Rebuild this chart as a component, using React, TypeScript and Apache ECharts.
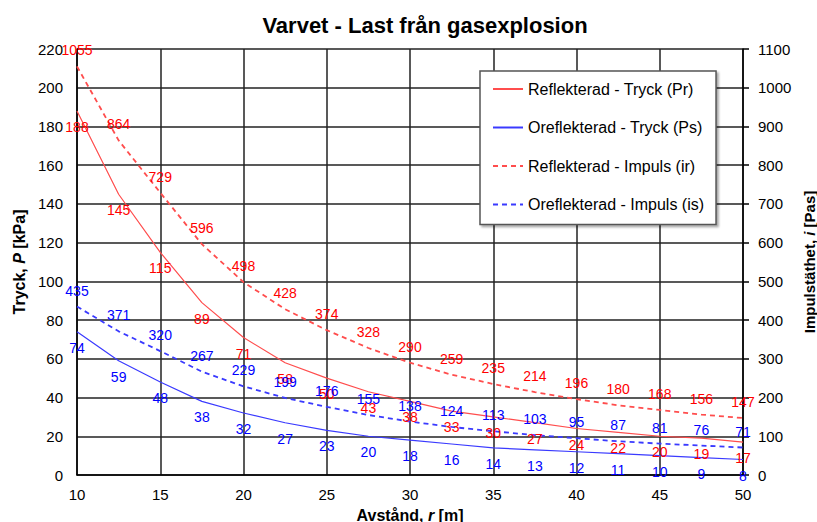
import React, { useEffect, useRef } from "react";
import * as echarts from "echarts";

const distances = [10, 12.5, 15, 17.5, 20, 22.5, 25, 27.5, 30, 32.5, 35, 37.5, 40, 42.5, 45, 47.5, 50];
const prValues = [188, 145, 115, 89, 71, 58, 50, 43, 38, 33, 30, 27, 24, 22, 20, 19, 17];
const psValues = [74, 59, 48, 38, 32, 27, 23, 20, 18, 16, 14, 13, 12, 11, 10, 9, 8];
const irValues = [1055, 864, 729, 596, 498, 428, 374, 328, 290, 259, 235, 214, 196, 180, 168, 156, 147];
const isValues = [435, 371, 320, 267, 229, 199, 176, 155, 138, 124, 113, 103, 95, 87, 81, 76, 71];

const seriesNames = [
  "Reflekterad - Tryck (Pr)",
  "Oreflekterad - Tryck (Ps)",
  "Reflekterad - Impuls (ir)",
  "Oreflekterad - Impuls (is)",
];

const FONT = "Liberation Sans, Arial, sans-serif";

export default function App() {
  const ref = useRef<HTMLDivElement>(null);
  useEffect(() => {
    if (!ref.current) return;
    const chart = echarts.init(ref.current, undefined, { renderer: "svg" });
    const pairs = (vals: number[]) => distances.map((d, i) => [d, vals[i]]);
    const mk = (
      name: string,
      vals: number[],
      color: string,
      labelColor: string,
      dashed: boolean,
      yAxisIndex: number,
      pos: string
    ) => ({
      name,
      type: "line",
      data: pairs(vals),
      yAxisIndex,
      smooth: false,
      symbol: "circle",
      symbolSize: 0.001,
      showSymbol: true,
      lineStyle: { color, width: dashed ? 1.8 : 1.2, type: dashed ? [5, 4] : "solid" },
      itemStyle: { color, opacity: 0 },
      label: {
        show: true,
        position: pos,
        distance: 9,
        color: labelColor,
        fontSize: 14,
        fontFamily: FONT,
        opacity: 1,
        formatter: (p: any) => String(p.value[1]),
      },
      labelLayout: { hideOverlap: false },
      emphasis: { disabled: true },
    });
    const nameStyle = (size: number) => ({
      fontSize: size,
      fontWeight: "bold",
      fontFamily: FONT,
      color: "#000",
      rich: {
        i: { fontStyle: "italic", fontSize: size, fontWeight: "bold", fontFamily: FONT, color: "#000" },
      },
    });
    chart.setOption({
      animation: false,
      backgroundColor: "#fff",
      title: {
        text: "Varvet - Last från gasexplosion",
        left: 420,
        textAlign: "center",
        top: 9,
        textStyle: { fontSize: 22, fontWeight: "bold", fontFamily: FONT, color: "#000" },
      },
      legend: {
        orient: "vertical",
        left: 480,
        top: 71,
        itemWidth: 30,
        itemHeight: 16,
        itemGap: 22.5,
        padding: [10, 12, 12, 12],
        backgroundColor: "#fff",
        borderColor: "#555",
        borderWidth: 1.5,
        shadowColor: "rgba(0,0,0,0.35)",
        shadowOffsetX: 2,
        shadowOffsetY: 2,
        shadowBlur: 2,
        itemStyle: { opacity: 0, borderWidth: 0 },
        textStyle: { fontSize: 16, fontFamily: FONT, color: "#000" },
        data: seriesNames,
      },
      grid: { left: 77, right: 74, top: 49, bottom: 47, containLabel: false, outerBoundsMode: "none" },
      xAxis: {
        type: "value",
        min: 10,
        max: 50,
        interval: 5,
        name: "Avstånd, {i|r} [m]",
        nameLocation: "middle",
        nameGap: 32,
        nameTextStyle: nameStyle(16),
        axisLine: { show: true, lineStyle: { color: "#000", width: 1.5 } },
        axisTick: { show: false },
        axisLabel: { fontSize: 15, fontFamily: FONT, color: "#000", margin: 12 },
        splitLine: { show: true, lineStyle: { color: "#222", width: 1.5 } },
      },
      yAxis: [
        {
          type: "value",
          min: 0,
          max: 220,
          interval: 20,
          name: "Tryck, {i|P} [kPa]",
          nameLocation: "middle",
          nameGap: 50,
          nameTextStyle: nameStyle(16),
          axisLine: { show: true, lineStyle: { color: "#000", width: 1.5 } },
          axisTick: { show: false },
          axisLabel: { fontSize: 15, fontFamily: FONT, color: "#000", margin: 14 },
          splitLine: { show: true, lineStyle: { color: "#222", width: 1.5 } },
        },
        {
          type: "value",
          min: 0,
          max: 1100,
          interval: 100,
          position: "right",
          name: "Impulstäthet, {i|i} [Pas]",
          nameLocation: "middle",
          nameGap: 58,
          nameRotate: 90,
          nameTextStyle: nameStyle(15),
          axisLine: { show: true, lineStyle: { color: "#000", width: 1.5 } },
          axisTick: { show: true, length: 6, inside: false, lineStyle: { color: "#000", width: 1.5 } },
          axisLabel: {
            fontSize: 15,
            fontFamily: FONT,
            color: "#000",
            margin: 15,
            formatter: (v: number) => String(v),
          },
          splitLine: { show: false },
        },
      ],
      series: [
        mk(seriesNames[0], prValues, "#ff4d4d", "#ff0000", false, 0, "bottom"),
        mk(seriesNames[1], psValues, "#3a3aff", "#0000ff", false, 0, "bottom"),
        mk(seriesNames[2], irValues, "#ff4d4d", "#ff0000", true, 1, "top"),
        mk(seriesNames[3], isValues, "#3a3aff", "#0000ff", true, 1, "top"),
      ],
    });
    return () => chart.dispose();
  }, []);
  return <div ref={ref} style={{ position: "fixed", left: 0, top: 0, width: 817, height: 522 }} />;
}
